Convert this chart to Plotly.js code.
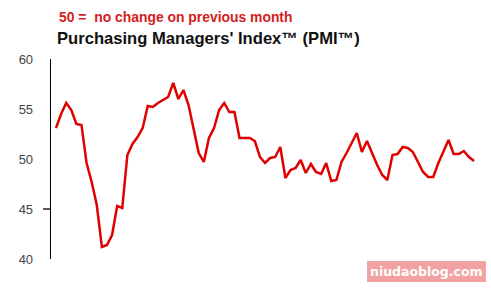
<!DOCTYPE html>
<html>
<head>
<meta charset="utf-8">
<script src="https://cdn.plot.ly/plotly-3.0.1.min.js"></script>
<style>html,body{margin:0;padding:0;background:#fff;}#chart{width:491px;height:288px;}</style>
</head>
<body>
<div id="chart"></div>
<script>
// Monthly PMI readings (index)
var pmiValues = [
  53.1, 54.5, 55.6, 54.9, 53.5, 53.4, 49.6, 47.7, 45.4, 41.2,
  41.4, 42.4, 45.3, 45.1, 50.4, 51.5, 52.2, 53.1, 55.3, 55.2,
  55.6, 55.9, 56.2, 57.6, 56.0, 56.9, 55.4, 53.0, 50.6, 49.7,
  52.1, 53.1, 54.9, 55.6, 54.7, 54.7, 52.1, 52.1, 52.1, 51.8,
  50.2, 49.6, 50.1, 50.2, 51.2, 48.1, 48.9, 49.1, 49.9, 48.6,
  49.5, 48.7, 48.5, 49.6, 47.8, 47.9, 49.7, 50.6, 51.6, 52.6,
  50.7, 51.8, 50.6, 49.4, 48.4, 47.9, 50.4, 50.5, 51.2, 51.1,
  50.7, 49.7, 48.7, 48.2, 48.2, 49.6, 50.7, 51.9, 50.5, 50.5,
  50.8, 50.2, 49.8
];
var months = pmiValues.map(function (v, i) { return i; });
var yTicks = [40, 45, 50, 55, 60];
var subtitleText = "50 =  no change on previous month";
var titleText = "Purchasing Managers' Index\u2122 (PMI\u2122)";
var watermarkText = "niudaoblog.com";

var trace = {
  x: months,
  y: pmiValues,
  type: 'scatter',
  mode: 'lines',
  line: {color: '#e00000', width: 2.5},
  hoverinfo: 'skip'
};

var plotW = 491 - 51 - 11;
var layout = {
  width: 491,
  height: 288,
  margin: {l: 51, r: 11, t: 59, b: 29, pad: 0},
  paper_bgcolor: '#ffffff',
  plot_bgcolor: '#ffffff',
  showlegend: false,
  font: {family: 'Liberation Sans, Arial, sans-serif', color: '#3a3a3a'},
  xaxis: {
    range: [-0.98, 83.17],
    visible: false,
    showgrid: false,
    zeroline: false,
    fixedrange: true
  },
  yaxis: {
    range: [40, 60],
    tickvals: yTicks,
    ticktext: yTicks.map(String),
    ticks: '',
    showgrid: false,
    zeroline: false,
    showline: true,
    linecolor: '#000000',
    linewidth: 1.3,
    ticklabelstandoff: 14,
    tickfont: {size: 13, color: '#444444', family: 'Liberation Sans, Arial, sans-serif'},
    fixedrange: true
  },
  shapes: [
    {type: 'line', xref: 'paper', yref: 'y', x0: -8 / plotW, x1: 0, y0: 45, y1: 45,
     line: {color: '#000000', width: 1.3}}
  ],
  annotations: [
    {text: '<b>' + subtitleText + '</b>', xref: 'paper', yref: 'paper',
     x: 6 / plotW, y: 1 + (59 - 17) / 200, xanchor: 'left', yanchor: 'middle',
     showarrow: false, font: {size: 13.9, color: '#d42020', family: 'Liberation Sans, Arial, sans-serif'}},
    {text: '<b>' + titleText + '</b>', xref: 'paper', yref: 'paper',
     x: 4 / plotW, y: 1 + (59 - 38) / 200, xanchor: 'left', yanchor: 'middle',
     showarrow: false, font: {size: 16.6, color: '#111111', family: 'Liberation Sans, Arial, sans-serif'}},
    {text: '<b>' + watermarkText + '</b>', xref: 'paper', yref: 'paper',
     x: (486 - 51) / plotW, y: -(271 - 259) / 200, xanchor: 'right', yanchor: 'middle',
     showarrow: false, bgcolor: '#f2a2a2', borderpad: 3, borderwidth: 0,
     font: {size: 12.5, color: '#ffffff', family: 'DejaVu Sans, sans-serif'}}
  ]
};

Plotly.newPlot('chart', [trace], layout, {displayModeBar: false, staticPlot: true});
</script>
</body>
</html>
